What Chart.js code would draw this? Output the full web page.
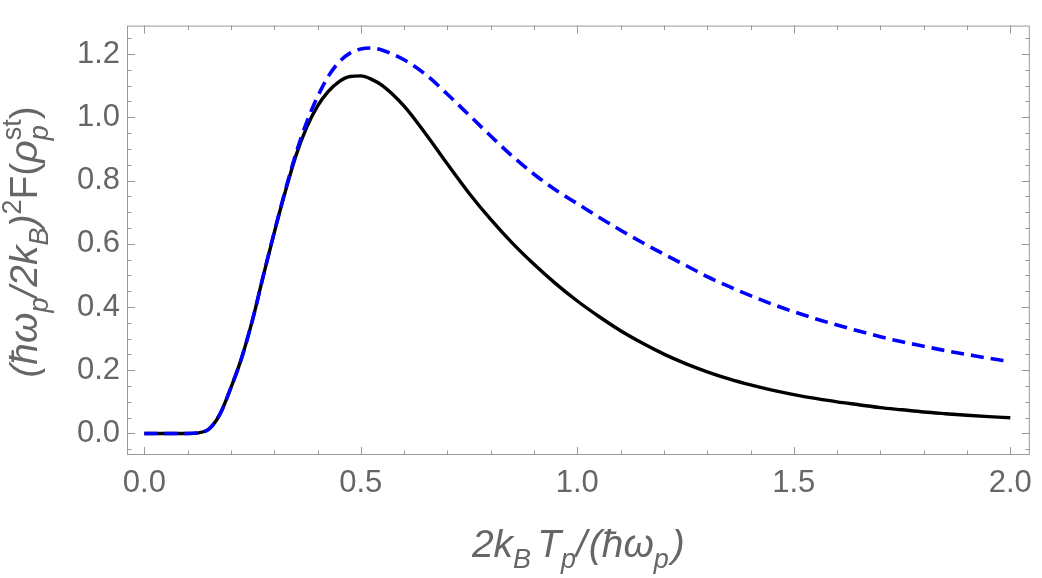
<!DOCTYPE html>
<html>
<head>
<meta charset="utf-8">
<script src="https://cdn.jsdelivr.net/npm/chart.js@4.4.1/dist/chart.umd.min.js"></script>
<style>
  html, body { margin: 0; padding: 0; background: #fff; }
  #wrap { width: 1042px; height: 578px; position: relative; }
</style>
</head>
<body>
<div id="wrap"><canvas id="chart"></canvas></div>
<script>
// ---- data ----
const xs = [0, 0.05, 0.1, 0.125, 0.15, 0.175, 0.2, 0.225, 0.25, 0.275, 0.3, 0.325, 0.35, 0.375, 0.4,
  0.425, 0.45, 0.475, 0.5, 0.525, 0.55, 0.6, 0.65, 0.7, 0.75, 0.8, 0.85, 0.9, 0.95, 1.0,
  1.05, 1.1, 1.15, 1.2, 1.25, 1.3, 1.35, 1.4, 1.45, 1.5, 1.55, 1.6, 1.65, 1.7, 1.75, 1.8,
  1.85, 1.9, 1.95, 2.0];

const solidVals = [0, 0, 0, 0.002, 0.015, 0.062, 0.145, 0.24, 0.36, 0.5, 0.635, 0.762, 0.878, 0.968, 1.035,
  1.082, 1.113, 1.129, 1.131, 1.12, 1.1, 1.035, 0.947, 0.852, 0.76, 0.677, 0.602, 0.535, 0.474, 0.419,
  0.37, 0.325, 0.286, 0.251, 0.221, 0.195, 0.1725, 0.1535, 0.137, 0.123, 0.111, 0.1, 0.091, 0.082, 0.075, 0.068,
  0.0626, 0.0577, 0.0535, 0.05];

const dashedVals = [0, 0, 0, 0.002, 0.015, 0.062, 0.145, 0.24, 0.36, 0.5, 0.636, 0.766, 0.885, 0.985, 1.065,
  1.13, 1.175, 1.203, 1.216, 1.219, 1.212, 1.182, 1.135, 1.073, 1.007, 0.941, 0.877, 0.82, 0.77, 0.727,
  0.684, 0.643, 0.604, 0.567, 0.532, 0.496, 0.465, 0.436, 0.409, 0.385, 0.363, 0.343, 0.324, 0.306, 0.29, 0.276,
  0.262, 0.25, 0.238, 0.227];

const xTicks = [0, 0.5, 1.0, 1.5, 2.0];
const yTicks = [0, 0.2, 0.4, 0.6, 0.8, 1.0, 1.2];

const GRAY_TEXT = "#666666";
const GRAY_FRAME = "#999999";
const FONT = "'Liberation Sans', Arial, sans-serif";

// ---- rich text helpers (sub/superscripts) ----
const xTitle = [
  { t: "2k", it: true },
  { t: "B", it: true, sub: true },
  { t: "T", it: true, gap: 6 },
  { t: "p", it: true, sub: true },
  { t: "/", it: true },
  { t: "(\u0127\u03C9", it: true, gap: 2 },
  { t: "p", it: true, sub: true },
  { t: ")", it: true, gap: 3 }
];

const yTitle = [
  { t: "(\u0127\u03C9", it: true },
  { t: "p", it: true, sub: true },
  { t: "/2k", it: true },
  { t: "B", it: true, sub: true },
  { t: ")", it: true },
  { t: "2", sup: true },
  { t: "F(" },
  { t: "\u03C1", it: true },
  { t: "p", it: true, sub: true, stack: true },
  { t: "st", sup: true },
  { t: ")" }
];

function segFont(s, size) {
  const sz = (s.sub || s.sup) ? Math.round(size * 0.7) : size;
  return (s.it ? "italic " : "") + sz + "px " + FONT;
}

function richWidth(ctx, segs, size) {
  let w = 0, stackW = 0;
  segs.forEach(s => {
    ctx.font = segFont(s, size);
    const sw = ctx.measureText(s.t).width + (s.gap || 0);
    if (s.stack) { stackW = sw; return; }
    w += Math.max(sw, stackW);
    stackW = 0;
  });
  return w;
}

function drawRich(ctx, segs, size, x, y) {
  let cx = x, stackW = 0;
  segs.forEach(s => {
    ctx.font = segFont(s, size);
    const sw = ctx.measureText(s.t).width;
    const dy = s.sub ? size * 0.28 : s.sup ? -size * 0.42 : 0;
    ctx.fillText(s.t, cx + (s.gap || 0), y + dy);
    if (s.stack) { stackW = sw; return; }
    cx += Math.max(sw + (s.gap || 0), stackW);
    stackW = 0;
  });
}

// ---- frame, inward ticks and titles ----
const framePlugin = {
  id: "frame",
  afterDraw(chart) {
    const { ctx, chartArea: a, scales } = chart;
    const sx = scales.x, sy = scales.y;
    ctx.save();
    ctx.strokeStyle = GRAY_FRAME;
    ctx.lineWidth = 1;
    ctx.strokeRect(a.left + 0.5, a.top + 0.5, a.right - a.left - 1, a.bottom - a.top - 1);

    ctx.beginPath();
    for (let i = 0; i <= 20; i++) {
      const px = Math.round(sx.getPixelForValue(i / 10)) + 0.5;
      const len = (i % 5 === 0) ? 8 : 4.5;
      ctx.moveTo(px, a.bottom); ctx.lineTo(px, a.bottom - len);
      ctx.moveTo(px, a.top); ctx.lineTo(px, a.top + len);
    }
    for (let i = -1; i <= 25; i++) {
      const v = i * 0.05;
      if (v < sy.min || v > sy.max) continue;
      const py = Math.round(sy.getPixelForValue(v)) + 0.5;
      const len = (i % 4 === 0) ? 8 : 4.5;
      ctx.moveTo(a.left, py); ctx.lineTo(a.left + len, py);
      ctx.moveTo(a.right, py); ctx.lineTo(a.right - len, py);
    }
    ctx.stroke();

    ctx.fillStyle = GRAY_TEXT;
    ctx.textBaseline = "alphabetic";
    ctx.textAlign = "left";
    const size = 39;

    const wx = richWidth(ctx, xTitle, size);
    drawRich(ctx, xTitle, size, (a.left + a.right) / 2 - wx / 2, 557);

    const wy = richWidth(ctx, yTitle, size);
    ctx.translate(37, 242);
    ctx.rotate(-Math.PI / 2);
    drawRich(ctx, yTitle, size, -wy / 2, 0);
    ctx.restore();
  }
};

const tickFont = { family: FONT, size: 31 };

new Chart(document.getElementById("chart"), {
  type: "scatter",
  data: {
    datasets: [
      {
        label: "dashed",
        data: xs.map((x, i) => ({ x, y: dashedVals[i] })),
        showLine: true,
        borderColor: "#0000ff",
        borderWidth: 3.6,
        borderDash: [13, 7],
        pointRadius: 0,
        cubicInterpolationMode: "monotone"
      },
      {
        label: "solid",
        data: xs.map((x, i) => ({ x, y: solidVals[i] })),
        showLine: true,
        borderColor: "#000000",
        borderWidth: 3.4,
        pointRadius: 0,
        cubicInterpolationMode: "monotone"
      }
    ]
  },
  options: {
    responsive: true,
    maintainAspectRatio: false,
    animation: false,
    layout: { padding: { top: 0, right: 7, left: 0, bottom: 0 } },
    plugins: { legend: { display: false }, tooltip: { enabled: false } },
    scales: {
      x: {
        type: "linear",
        min: -0.04,
        max: 2.045,
        grid: { display: false, drawTicks: false },
        border: { display: false },
        afterBuildTicks: s => { s.ticks = xTicks.map(v => ({ value: v })); },
        afterFit: s => { s.height = 123; },
        ticks: { color: GRAY_TEXT, font: tickFont, padding: 10, maxRotation: 0,
                 callback: v => Number(v).toFixed(1) }
      },
      y: {
        min: -0.068,
        max: 1.29,
        grid: { display: false, drawTicks: false },
        border: { display: false },
        afterBuildTicks: s => { s.ticks = yTicks.map(v => ({ value: v })); },
        afterFit: s => { s.width = 127; },
        ticks: { color: GRAY_TEXT, font: tickFont, padding: 7,
                 callback: v => Number(v).toFixed(1) }
      }
    }
  },
  plugins: [framePlugin]
});
</script>
</body>
</html>
